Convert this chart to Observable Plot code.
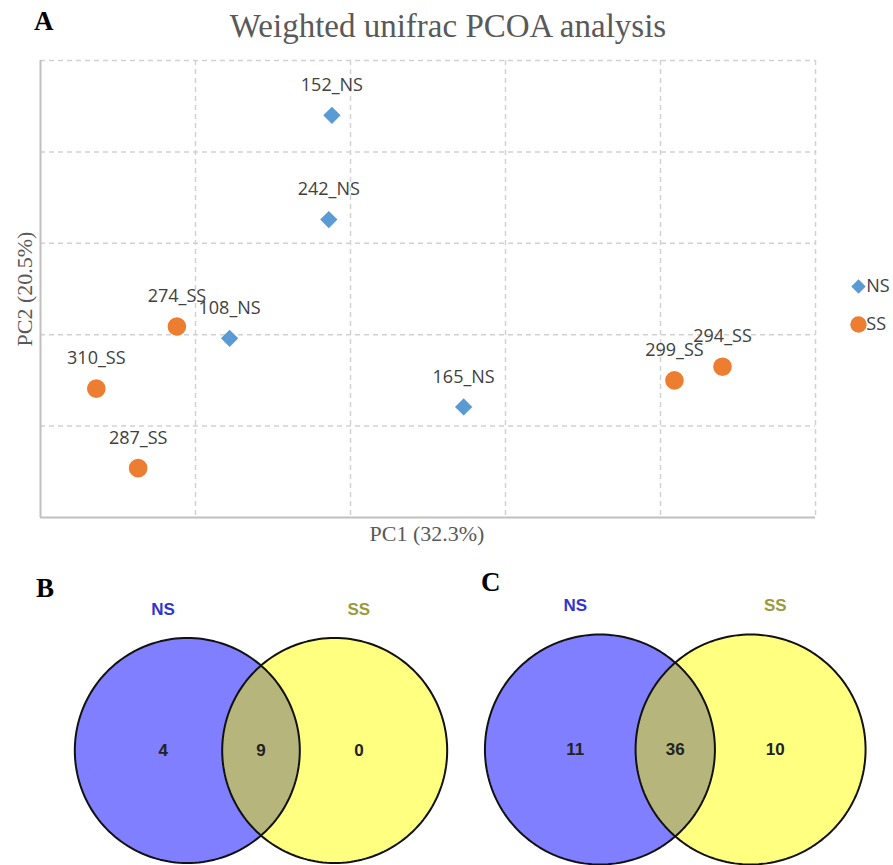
<!DOCTYPE html>
<html>
<head>
<meta charset="utf-8">
<script src="https://cdn.jsdelivr.net/npm/d3@7"></script>
<script src="https://cdn.jsdelivr.net/npm/@observablehq/plot@0.6"></script>
<style>
  html, body { margin: 0; padding: 0; background: #fff; }
  #fig { position: relative; width: 893px; height: 865px; overflow: hidden; background: #fff; }
  .abs { position: absolute; white-space: nowrap; }
  .letter { font-family: "Liberation Serif", "Times New Roman", serif; font-weight: bold; font-size: 27px; line-height: 27px; color: #000; }
  .title { font-family: "Liberation Serif", "Times New Roman", serif; font-size: 33px; line-height: 33px; color: #595959; text-align: center; }
  .axlab { font-family: "Liberation Serif", "Times New Roman", serif; font-size: 22px; line-height: 22px; color: #595959; text-align: center; }
</style>
</head>
<body>
<div id="fig"></div>
<script>
// ---------- Panel A data (PCoA) ----------
const sampleNames  = ["152_NS", "242_NS", "108_NS", "165_NS", "274_SS", "310_SS", "287_SS", "299_SS", "294_SS"];
const sampleGroups = ["NS", "NS", "NS", "NS", "SS", "SS", "SS", "SS", "SS"];
const pc1 = [-0.012, -0.014, -0.078, 0.073, -0.112, -0.164, -0.137, 0.209, 0.240];
const pc2 = [0.240, 0.126, -0.004, -0.079, 0.009, -0.059, -0.146, -0.050, -0.035];
const groupNames = ["NS", "SS"];
const groupColors = ["#5B9BD5", "#ED7D31"];
const groupSymbols = ["diamond2", "circle"];
const gridXValues = [-0.1, 0, 0.1, 0.2, 0.3];
const gridYValues = [-0.1, 0, 0.1, 0.2, 0.3];
const titleText = "Weighted unifrac PCOA analysis";
const xLabel = "PC1 (32.3%)";
const yLabel = "PC2 (20.5%)";

// ---------- Panels B, C data (Venn) ----------
const vennSets = ["NS", "SS"];
const vennSetColors = ["#3434cc", "#9a9a3a"];
const vennCountsB = [4, 9, 0];   // NS only, shared, SS only
const vennCountsC = [11, 36, 10];

const fig = document.getElementById("fig");
function addDiv(cls, text, style) {
  const d = document.createElement("div");
  d.className = "abs " + cls;
  d.textContent = text;
  Object.assign(d.style, style);
  fig.appendChild(d);
  return d;
}
function place(node, left, top) {
  node.style.position = "absolute";
  node.style.left = left + "px";
  node.style.top = top + "px";
  fig.appendChild(node);
}

// ---------- Panel A ----------
const samples = sampleNames.map((name, i) => ({name, group: sampleGroups[i], pc1: pc1[i], pc2: pc2[i]}));
const gridStyle = {stroke: "#d2d2d2", strokeWidth: 1.5, strokeDasharray: "5,4"};
const plotA = Plot.plot({
  width: 893, height: 560,
  marginLeft: 40, marginRight: 78, marginTop: 60, marginBottom: 43,
  style: {background: "transparent", overflow: "visible"},
  x: {domain: [-0.2, 0.3], axis: null},
  y: {domain: [-0.2, 0.3], axis: null},
  color: {domain: groupNames, range: groupColors},
  symbol: {domain: groupNames, range: groupSymbols},
  marks: [
    Plot.ruleX(gridXValues, gridStyle),
    Plot.ruleY(gridYValues, gridStyle),
    Plot.ruleX([-0.2], {stroke: "#c0c0c0", strokeWidth: 2}),
    Plot.ruleY([-0.2], {stroke: "#c0c0c0", strokeWidth: 2}),
    Plot.dot(samples, {filter: d => d.group === "NS", x: "pc1", y: "pc2", fill: "group", symbol: "group", r: 7.8}),
    Plot.dot(samples, {filter: d => d.group === "SS", x: "pc1", y: "pc2", fill: "group", symbol: "group", r: 9.3}),
    Plot.text(samples, {x: "pc1", y: "pc2", text: "name", dy: -30, fontSize: 18, fill: "#404040", fontFamily: "Open Sans"})
  ]
});
place(plotA, 0, 0);

// Legend for panel A
const legendA = Plot.plot({
  width: 60, height: 80, margin: 0,
  style: {background: "transparent", overflow: "visible"},
  x: {domain: [0, 1], axis: null},
  y: {domain: groupNames, type: "band", axis: null},
  color: {domain: groupNames, range: groupColors},
  symbol: {domain: groupNames, range: groupSymbols},
  marks: [
    Plot.dot(groupNames, {filter: d => d === "NS", x: () => 0.3, y: d => d, fill: d => d, symbol: d => d, r: 6.5}),
    Plot.dot(groupNames, {filter: d => d === "SS", x: () => 0.3, y: d => d, fill: d => d, symbol: d => d, r: 8.2}),
    Plot.text(groupNames, {x: () => 0.43, y: d => d, text: d => d, textAnchor: "start", fontSize: 18, fill: "#404040", fontFamily: "Open Sans"})
  ]
});
place(legendA, 840, 265);

addDiv("title", titleText, {left: "0px", top: "10px", width: "896px"});
addDiv("letter", "A", {left: "34px", top: "8px"});
addDiv("axlab", xLabel, {left: "327px", top: "523px", width: "200px"});
addDiv("axlab", yLabel, {left: "-75px", top: "278px", width: "200px", transform: "rotate(-90deg)", transformOrigin: "100px 11px"});

// ---------- Venn panels ----------
const halfDist = 0.655;       // half the distance between circle centres (radius = 1)
const outerLabelX = 0.87;
const headerY = 1.25;

function circlePts(cx) {
  return d3.range(0, 361, 2).map(a => {
    const t = a * Math.PI / 180;
    return {x: cx + Math.cos(t), y: Math.sin(t)};
  });
}
function lensPts(d) {
  const alpha = Math.acos(d);
  const n = 90;
  const pts = [];
  for (let k = 0; k <= n; k++) {
    const t = -alpha + (2 * alpha) * k / n;
    pts.push({x: -d + Math.cos(t), y: Math.sin(t)});
  }
  for (let k = 0; k <= n; k++) {
    const t = Math.PI - alpha + (2 * alpha) * k / n;
    pts.push({x: d + Math.cos(t), y: Math.sin(t)});
  }
  return pts;
}

function vennPlot(counts, width, height, unit, midX, midY) {
  const leftC = circlePts(-halfDist);
  const rightC = circlePts(halfDist);
  const lens = lensPts(halfDist);
  const regionX = [-outerLabelX, 0, outerLabelX];
  const setX = [-outerLabelX, outerLabelX];
  const textStyle = {fontFamily: "Liberation Sans", fontWeight: "bold", fontSize: 17};
  return Plot.plot({
    width, height, margin: 0,
    style: {background: "transparent", overflow: "visible"},
    x: {domain: [-midX / unit, (width - midX) / unit], axis: null},
    y: {domain: [-(height - midY) / unit, midY / unit], axis: null},
    marks: [
      Plot.line(leftC, {x: "x", y: "y", fill: "#7f7fff", stroke: "none", curve: "linear-closed"}),
      Plot.line(rightC, {x: "x", y: "y", fill: "#ffff80", stroke: "none", curve: "linear-closed"}),
      Plot.line(lens, {x: "x", y: "y", fill: "#b6b67c", stroke: "none", curve: "linear-closed"}),
      Plot.line(leftC, {x: "x", y: "y", stroke: "#111", strokeWidth: 2, curve: "linear-closed"}),
      Plot.line(rightC, {x: "x", y: "y", stroke: "#111", strokeWidth: 2, curve: "linear-closed"}),
      Plot.text(vennSets, {filter: (d, i) => i === 0, x: () => setX[0], y: () => headerY, text: d => d, fill: vennSetColors[0], ...textStyle}),
      Plot.text(vennSets, {filter: (d, i) => i === 1, x: () => setX[1], y: () => headerY, text: d => d, fill: vennSetColors[1], ...textStyle}),
      Plot.text(counts, {x: (d, i) => regionX[i], y: () => 0, text: d => String(d), fill: "#222", ...textStyle})
    ]
  });
}

const vennB = vennPlot(vennCountsB, 460, 275, 112.5, 260.5, 160);
place(vennB, 0, 590);
const vennC = vennPlot(vennCountsC, 433, 275, 115, 214.75, 159);
place(vennC, 460, 590);

addDiv("letter", "B", {left: "36px", top: "575px"});
addDiv("letter", "C", {left: "481px", top: "569px"});
</script>
</body>
</html>
